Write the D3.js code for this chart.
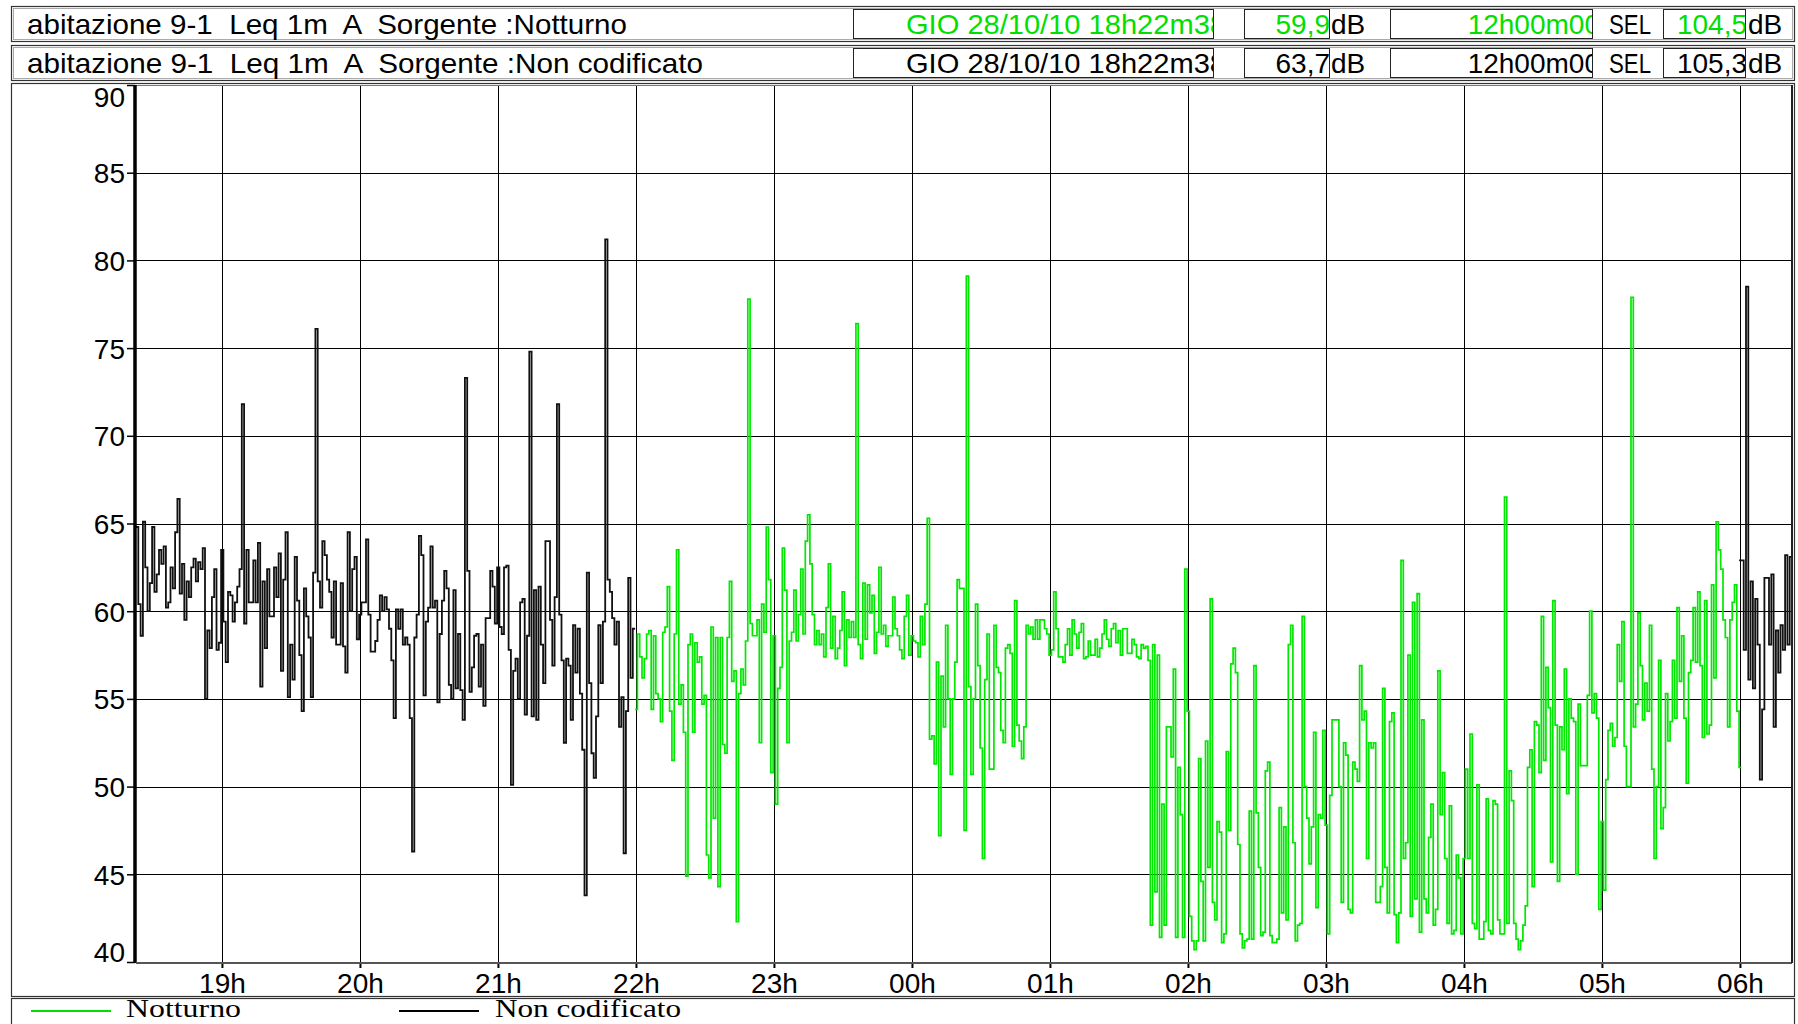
<!DOCTYPE html>
<html>
<head>
<meta charset="utf-8">
<script src="https://cdn.jsdelivr.net/npm/d3@7"></script>
<style>
  body { margin: 0; background: #fff; }
  svg { display: block; }
</style>
</head>
<body>
<svg id="chart" width="1798" height="1024"></svg>
<script>
// ---- Measurement: 1-minute Leq(A), abitazione 9-1, from GIO 28/10/10 18h22m38 ----
const startTime = new Date(2010, 9, 28, 18, 22, 38);
const totalMinutes = 720;

const yTickValues = [40, 45, 50, 55, 60, 65, 70, 75, 80, 85, 90];
const seriesNames = ["Notturno", "Non codificato"];
const seriesColors = ["#00e800", "#111111"];

// Non codificato, evening block (minute 0 onwards)
const nonCodEveningStart = 0;
const nonCodEvening = [
  64.8, 60.4, 58.6, 65.1, 62.5, 60.0, 61.6, 64.8, 61.1, 62.1,
  63.5, 62.7, 63.7, 60.2, 60.5, 62.5, 61.3, 64.5, 66.4, 61.0,
  62.7, 59.5, 61.7, 60.8, 62.5, 63.0, 61.7, 62.8, 62.4, 63.6,
  55.0, 58.9, 57.9, 60.8, 62.4, 57.8, 58.2, 63.5, 59.4, 57.1,
  61.1, 60.9, 59.4, 60.5, 61.4, 62.4, 71.8, 59.3, 63.5, 60.5,
  60.5, 62.9, 60.5, 63.9, 55.7, 61.7, 57.9, 62.4, 59.7, 59.7,
  62.5, 60.8, 63.3, 56.6, 61.8, 64.5, 55.1, 58.1, 56.1, 63.1,
  60.6, 57.5, 54.3, 61.3, 59.7, 58.5, 55.1, 62.2, 76.1, 61.7,
  60.2, 64.0, 63.2, 61.8, 61.1, 58.5, 61.7, 58.1, 58.1, 61.6,
  58.0, 56.5, 64.5, 60.0, 62.4, 63.1, 58.4, 59.8, 60.5, 60.5,
  64.1, 59.8, 57.7,
  57.7, 58.3, 59.5, 60.9, 60.0, 60.8, 60.1, 59.0, 57.2, 53.9,
  60.1, 59.0, 60.1, 58.1, 58.5, 58.1, 53.9, 46.3, 58.5, 59.8,
  64.3, 63.2, 55.2, 59.4, 60.2, 63.7, 60.2, 60.6, 54.8, 58.7,
  60.6, 62.3, 61.3, 55.8, 55.0, 61.2, 55.6, 58.7, 55.5, 53.8,
  73.3, 62.3, 55.4, 56.8, 58.6, 58.7, 55.7, 58.1, 54.6, 59.6,
  59.6, 62.3, 61.4, 59.3, 62.5, 59.1, 58.7, 62.5, 62.6, 57.8,
  50.1, 56.6, 57.3, 55.0, 60.5, 60.7, 54.1, 58.6, 74.8, 54.0,
  61.2, 53.8, 61.4, 58.1, 55.9, 64.0, 64.0, 59.5, 56.9, 60.8,
  71.8, 59.8, 57.2, 52.5, 57.3, 56.9, 53.8, 59.2, 56.5, 59.0,
  55.3, 52.1, 43.8, 62.2, 55.9, 51.9, 50.5, 54.0, 59.2, 55.9,
  59.4, 81.2, 61.8, 61.1,
  59.6, 58.1, 59.4, 53.4, 55.1, 46.2, 54.3, 61.9, 56.2, 59.0
];

// Notturno, 22h00 - 06h00 (minute 217 onwards)
const notturnoStart = 217;
const notturno = [
  54.4, 58.7, 57.4, 56.2, 57.3, 58.7, 58.9, 54.4, 58.6, 55.3,
  55.0, 53.7, 58.8, 59.1, 61.4, 54.3, 51.5, 58.7, 63.5, 54.7,
  55.8, 53.1, 44.9, 58.1, 58.7, 53.1, 58.2, 57.1, 57.4, 54.7,
  55.2, 46.1, 44.8, 59.1, 48.2, 58.5, 44.3, 58.5, 52.4, 51.9,
  58.5, 61.7, 56.0, 56.6, 42.3, 55.3, 56.7, 55.8, 58.3, 77.8,
  59.3, 58.6, 58.6, 59.5, 52.5, 60.4, 58.8, 64.8, 61.8, 50.8,
  58.6, 49.0, 55.6, 56.8, 63.6, 61.2, 52.5, 58.3, 58.8, 61.2,
  58.3, 59.8, 62.4, 58.7, 64.0, 65.5, 62.7, 59.8, 58.1, 58.9,
  58.1, 58.7, 57.4, 60.2, 62.7, 57.9, 59.7, 57.3, 57.9, 58.9,
  61.1, 56.9, 59.5, 58.5,
  59.4, 58.5, 76.4, 58.1, 57.3, 61.6, 58.4, 61.5, 59.9, 60.9,
  57.6, 58.8, 62.5, 58.7, 59.2, 58.0, 58.6, 58.6, 60.8, 59.0,
  58.6, 57.8, 57.3, 59.7, 60.9, 57.5, 58.6, 58.3, 58.2, 57.4,
  59.7, 58.1, 60.4, 65.3, 52.7, 52.9, 51.3, 57.1, 47.2, 56.3,
  53.4, 59.2, 55.0, 50.7, 55.0, 57.1, 61.8, 61.3, 61.3, 47.5,
  79.1, 55.7, 50.7, 55.0, 60.4, 56.9, 52.2, 45.9, 56.1, 58.7,
  51.0, 51.0, 59.2, 56.8, 56.5, 53.2, 52.5, 57.9, 58.1, 57.6,
  52.3, 60.6, 53.5, 52.6, 51.6, 53.4, 59.2, 58.7, 59.1, 58.4,
  59.5, 58.4, 59.5, 59.5, 59.0, 58.7, 57.5, 57.8, 61.1, 59.0,
  57.4, 57.4, 57.1, 58.1, 59.0, 57.5, 59.5, 58.7, 57.9, 58.8,
  59.3, 57.3, 57.4, 58.3, 57.5,
  57.5, 58.4, 57.4, 57.9, 58.7, 59.5, 58.4, 58.0, 59.0, 59.3,
  58.2, 58.9, 57.5, 59.0, 59.0, 57.6, 57.6, 58.4, 58.1, 57.4,
  57.3, 58.1, 57.9, 58.0, 57.2,
  42.1, 58.1, 44.0, 57.5, 41.4, 49.0, 42.1, 53.4, 53.4, 51.7,
  56.7, 41.4, 51.1, 48.4, 41.4, 62.4, 54.3, 42.6, 41.2, 40.7,
  41.2, 51.6, 44.6, 41.2, 52.6, 45.4, 60.7, 43.4, 42.4, 48.0,
  47.4, 41.1, 41.6, 52.0, 47.5, 57.0, 57.9, 56.5, 46.7, 41.6,
  40.8, 41.2, 41.3, 48.6, 41.3, 56.9, 48.5, 45.4, 41.5, 41.7,
  50.9, 51.4, 41.5, 41.1, 41.1, 41.3, 48.8, 42.8, 47.7, 42.4,
  58.1, 59.2, 46.8, 41.2, 42.1, 42.2, 59.7, 50.0, 48.2, 45.6,
  47.7, 53.1, 43.1, 48.4, 48.2, 53.2, 47.8, 41.6, 49.5,
  53.8, 53.8, 53.8,
  50.0, 43.4, 52.5, 51.8, 43.0, 42.8, 51.4, 51.0, 50.3, 56.9,
  53.8, 54.3, 45.9, 52.5, 52.2, 52.5, 43.4, 43.4, 44.3, 55.6,
  45.4, 42.8, 53.7, 54.2, 42.7, 41.1, 42.8, 62.9, 45.9, 46.8,
  57.5, 42.6, 60.5, 43.6, 61.0, 41.7, 53.8, 43.6, 42.8, 47.1,
  49.0, 42.1, 43.0, 56.6, 48.4, 50.8, 45.9, 42.2, 48.9, 41.6,
  41.8, 46.1, 44.8, 41.6, 45.9, 51.0, 45.9, 53.0, 42.2, 41.9,
  50.1, 41.3, 41.3, 42.3, 49.3, 41.8, 41.6, 49.2, 49.0, 42.4,
  41.6, 41.6, 66.5, 42.2, 50.9, 49.2, 42.2, 41.3, 40.7, 41.2,
  42.1, 43.2, 51.1, 52.1, 44.3, 53.7, 53.5, 50.8, 59.7, 51.5,
  56.8, 54.5, 45.7, 60.6, 53.5, 44.6, 53.4,
  52.1, 56.7, 49.6, 55.0, 53.9, 53.7, 45.0, 54.7, 51.2, 51.2,
  51.2, 55.2, 60.0, 54.2, 55.3, 53.9, 43.0, 48.0, 44.1, 50.4,
  53.2, 53.6, 52.3, 52.8, 58.1, 56.0, 59.4, 52.3, 50.0, 50.0,
  77.9, 53.4, 54.7, 59.9, 56.9, 53.8, 55.9, 54.3, 59.2, 51.0,
  45.9, 50.0, 57.2, 47.6, 48.8, 55.3, 52.6, 53.7, 57.2, 53.9,
  60.2, 56.0, 58.6, 53.9, 50.2, 56.5, 57.2, 60.2, 57.1, 61.1,
  56.9, 52.8, 60.6, 53.0, 53.5, 61.5, 56.2, 65.1, 63.5, 62.4,
  59.5, 58.5, 53.4, 59.5, 60.5, 61.5, 54.3, 51.1
];

// Non codificato, morning block (minute 697 onwards)
const nonCodMorningStart = 697;
const nonCodMorning = [
  62.9, 62.9, 57.8, 78.5, 56.1, 61.7, 55.6, 60.7, 58.1, 50.4,
  54.4, 61.9, 61.9, 58.1, 62.1, 53.4, 58.9, 56.5, 59.2, 57.8,
  63.2, 58.1, 63.1
];

// Summary values shown in the header boxes
const headerLabels = [
  "abitazione 9-1  Leq 1m  A  Sorgente :Notturno",
  "abitazione 9-1  Leq 1m  A  Sorgente :Non codificato"
];
const headerDates = ["GIO 28/10/10 18h22m38", "GIO 28/10/10 18h22m38"];
const headerLeq = ["59,9", "63,7"];
const headerDurations = ["12h00m00", "12h00m00"];
const headerSel = ["104,5", "105,3"];

// ---------------------------------------------------------------------
const svg = d3.select("#chart");
const W = 1798, H = 1024;
const plot = { left: 136, right: 1792, top: 85, bottom: 962 };
const sans = "'Liberation Sans', Arial, sans-serif";
const serif = "'Liberation Serif', 'Times New Roman', serif";
const green = "#00e000";

const minute = i => d3.timeMinute.offset(startTime, i);
const x = d3.scaleTime()
  .domain([startTime, minute(totalMinutes)])
  .range([plot.left, plot.right]);
const y = d3.scaleLinear().domain([40, 90]).range([plot.bottom, plot.top]);

svg.append("rect").attr("width", W).attr("height", H).attr("fill", "#fff");

// ---- header rows ----
const rowTops = [6, 45];
const rowH = 35;
const boxes = {
  date: [853, 1213],
  leq: [1244, 1329],
  dur: [1390, 1592],
  sel: [1663, 1745]
};
const defs = svg.append("defs");

rowTops.forEach((top, r) => {
  const g = svg.append("g");
  const txtColor = r === 0 ? green : "#000";
  g.append("rect").attr("x", 11.5).attr("y", top + 0.5).attr("width", 1783).attr("height", rowH)
    .attr("fill", "none").attr("stroke", "#333").attr("stroke-width", 1.2);
  g.append("rect").attr("x", 13.5).attr("y", top + 2.5).attr("width", 1779).attr("height", rowH - 4)
    .attr("fill", "none").attr("stroke", "#aaa").attr("stroke-width", 1);
  const base = top + 28;
  g.append("text").attr("x", 27).attr("y", base)
    .attr("font-family", sans).attr("font-size", 28)
    .attr("textLength", r === 0 ? 600 : 676).attr("lengthAdjust", "spacingAndGlyphs")
    .style("white-space", "pre")
    .text(headerLabels[r]);

  Object.entries(boxes).forEach(([key, [x0, x1]]) => {
    const id = `clip-${key}-${r}`;
    defs.append("clipPath").attr("id", id)
      .append("rect").attr("x", x0).attr("y", top + 3).attr("width", x1 - x0).attr("height", rowH - 5);
    g.append("rect").attr("x", x0 + 0.5).attr("y", top + 3.5).attr("width", x1 - x0).attr("height", rowH - 6)
      .attr("fill", "none").attr("stroke", "#222").attr("stroke-width", 1);
    const txt = { date: headerDates[r], leq: headerLeq[r], dur: headerDurations[r], sel: headerSel[r] }[key];
    const anchorX = { date: 1226, leq: 1330, dur: 1600, sel: 1747 }[key];
    const t = g.append("text").attr("clip-path", `url(#${id})`)
      .attr("x", anchorX).attr("y", base).attr("text-anchor", "end")
      .attr("font-family", sans).attr("font-size", 28).attr("fill", txtColor)
      .text(txt);
    if (key === "date") t.attr("textLength", 320).attr("lengthAdjust", "spacingAndGlyphs");
  });
  g.append("text").attr("x", 1331).attr("y", base).attr("font-family", sans).attr("font-size", 28).text("dB");
  g.append("text").attr("x", 1748).attr("y", base).attr("font-family", sans).attr("font-size", 28).text("dB");
  g.append("text").attr("x", 1609).attr("y", base).attr("font-family", sans).attr("font-size", 28)
    .attr("textLength", 42).attr("lengthAdjust", "spacingAndGlyphs").text("SEL");
});

// ---- frames ----
svg.append("rect").attr("x", 11.5).attr("y", 83.5).attr("width", 1783).attr("height", 913)
  .attr("fill", "none").attr("stroke", "#333").attr("stroke-width", 1.2);
svg.append("rect").attr("x", 11.5).attr("y", 998.5).attr("width", 1783).attr("height", 40)
  .attr("fill", "none").attr("stroke", "#333").attr("stroke-width", 1.2);

// ---- grid ----
const grid = svg.append("g").attr("shape-rendering", "crispEdges");
grid.selectAll("line.h").data(yTickValues.filter(v => v > 40 && v < 90)).join("line")
  .attr("x1", plot.left).attr("x2", plot.right)
  .attr("y1", d => Math.round(y(d)) + 0.5).attr("y2", d => Math.round(y(d)) + 0.5)
  .attr("stroke", "#000").attr("stroke-width", 1);
const hours = d3.timeHour.range(d3.timeHour.ceil(startTime), minute(totalMinutes));
grid.selectAll("line.v").data(hours).join("line")
  .attr("x1", d => Math.round(x(d)) + 0.5).attr("x2", d => Math.round(x(d)) + 0.5)
  .attr("y1", plot.top).attr("y2", plot.bottom)
  .attr("stroke", "#000").attr("stroke-width", 1);

// top edge of the plot
svg.append("line").attr("x1", plot.left).attr("x2", plot.right)
  .attr("y1", plot.top + 0.5).attr("y2", plot.top + 0.5)
  .attr("stroke", "#777").attr("stroke-width", 1);

// ---- series (1-minute steps) ----
const stepLine = d3.line()
  .x(d => x(d.t)).y(d => y(d.v))
  .curve(d3.curveStepAfter);

function block(values, offset) {
  const pts = values.map((v, k) => ({ t: minute(offset + k), v }));
  pts.push({ t: minute(offset + values.length), v: values[values.length - 1] });
  return pts;
}

const plotG = svg.append("g");
plotG.append("path").datum(block(notturno, notturnoStart))
  .attr("d", stepLine).attr("fill", "none")
  .attr("stroke", seriesColors[0]).attr("stroke-width", 1.7);
[[nonCodEvening, nonCodEveningStart], [nonCodMorning, nonCodMorningStart]].forEach(([vals, off]) => {
  plotG.append("path").datum(block(vals, off))
    .attr("d", stepLine).attr("fill", "none")
    .attr("stroke", seriesColors[1]).attr("stroke-width", 1.8);
});

// ---- axes ----
const xAxis = d3.axisBottom(x)
  .ticks(d3.timeHour.every(1))
  .tickFormat(d3.timeFormat("%Hh"))
  .tickSize(6).tickPadding(5);
const xg = svg.append("g").attr("transform", `translate(0,${plot.bottom})`).call(xAxis);
xg.select(".domain").remove();
xg.selectAll(".tick line").attr("stroke", "#000").attr("stroke-width", 2);
xg.selectAll(".tick text").attr("font-family", sans).attr("font-size", 28)
  .attr("fill", "#000").attr("dy", "0.71em");

const yAxis = d3.axisLeft(y).tickValues(yTickValues).tickSize(8).tickPadding(2)
  .tickFormat(d3.format("d"));
const yg = svg.append("g").attr("transform", `translate(${plot.left - 1},0)`).call(yAxis);
yg.select(".domain").remove();
yg.selectAll(".tick line").attr("stroke", "#000").attr("stroke-width", 1.5);
// end labels are kept inside the plot height
yg.selectAll(".tick text").attr("font-family", sans).attr("font-size", 28).attr("fill", "#000")
  .attr("dy", d => d === 90 ? "0.76em" : d === 40 ? "-0.02em" : "0.36em");

// axis lines
svg.append("line").attr("x1", plot.left - 1).attr("x2", plot.left - 1)
  .attr("y1", plot.top).attr("y2", plot.bottom + 1)
  .attr("stroke", "#000").attr("stroke-width", 3.5);
svg.append("line").attr("x1", plot.left).attr("x2", plot.right)
  .attr("y1", plot.bottom + 1).attr("y2", plot.bottom + 1)
  .attr("stroke", "#555").attr("stroke-width", 2);
svg.append("line").attr("x1", plot.right).attr("x2", plot.right)
  .attr("y1", plot.top).attr("y2", plot.bottom + 1)
  .attr("stroke", "#222").attr("stroke-width", 2);

// ---- legend ----
const legend = svg.append("g");
const legendItems = [
  { name: seriesNames[0], color: green, x1: 31, x2: 111, tx: 126, tl: 115 },
  { name: seriesNames[1], color: "#000", x1: 399, x2: 479, tx: 495, tl: 186 }
];
legendItems.forEach(d => {
  legend.append("line").attr("x1", d.x1).attr("x2", d.x2).attr("y1", 1011).attr("y2", 1011)
    .attr("stroke", d.color).attr("stroke-width", 2);
  legend.append("text").attr("x", d.tx).attr("y", 1017)
    .attr("font-family", serif).attr("font-size", 25)
    .attr("textLength", d.tl).attr("lengthAdjust", "spacingAndGlyphs")
    .text(d.name);
});
</script>
</body>
</html>
